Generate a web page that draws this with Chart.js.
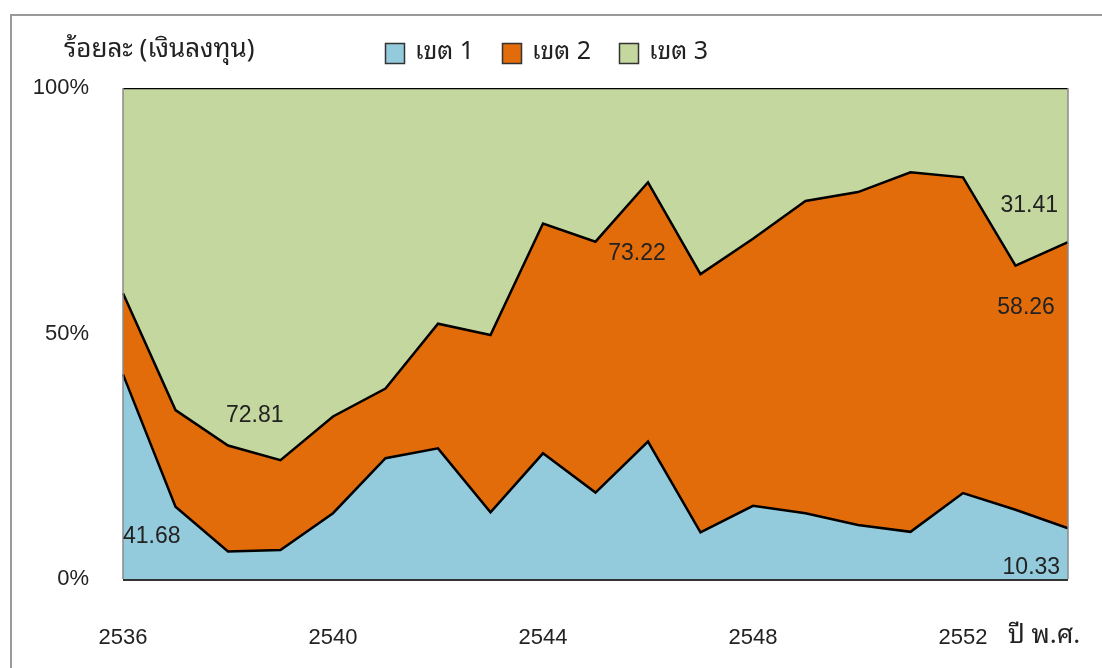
<!DOCTYPE html>
<html lang="th">
<head>
<meta charset="utf-8">
<title>สัดส่วนเงินลงทุน เขต 1-3</title>
<script src="https://cdn.jsdelivr.net/npm/chart.js@4.4.1/dist/chart.umd.min.js"></script>
<style>
  html, body { margin: 0; padding: 0; background: #fff; }
  #wrap { width: 1102px; height: 668px; }
</style>
</head>
<body>
<div id="wrap"><canvas id="investChart" width="1102" height="668"></canvas></div>
<script>
// ปี พ.ศ. 2536 - 2554
const years = ['2536', '2537', '2538', '2539', '2540', '2541', '2542', '2543', '2544', '2545',
               '2546', '2547', '2548', '2549', '2550', '2551', '2552', '2553', '2554'];
// ร้อยละของเงินลงทุนแต่ละเขต
const zone1 = [41.68, 14.7, 5.6, 5.9, 13.4, 24.6, 26.6, 13.6, 25.6, 17.6,
               28.0, 9.5, 14.9, 13.4, 11.0, 9.6, 17.5, 14.1, 10.33];
const zone2 = [16.52, 19.7, 21.59, 18.3, 19.7, 14.2, 25.4, 36.1, 46.8, 51.1,
               52.8, 52.6, 54.4, 63.6, 67.8, 73.22, 64.3, 49.7, 58.26];
const zone3 = [41.8, 65.6, 72.81, 75.8, 66.9, 61.2, 48.0, 50.3, 27.6, 31.3,
               19.2, 37.9, 30.7, 23.0, 21.2, 17.18, 18.2, 36.2, 31.41];
const zoneNames = ['เขต 1', 'เขต 2', 'เขต 3'];
const yTicks = [0, 50, 100];
const shownYears = ['2536', '2540', '2544', '2548', '2552'];

const zoneColors = ['#94cbdc', '#e36c0a', '#c4d79e'];
const FONT = '"Liberation Sans", Arial, sans-serif';
const THAI_FONT = 'Tahoma, "Noto Sans Thai Looped", "Noto Sans Thai", "Noto Sans", sans-serif';

// ป้ายค่าบนกราฟ: ชุดข้อมูล, ตำแหน่งข้อมูล, จุดวาง (ดัชนีแกน x, ค่าแกน y), การจัดแนว
const valueLabels = [
  { ds: 0, i: 0,  at: [0, 8.6],      align: 'left' },
  { ds: 2, i: 2,  at: [2.51, 33.2],  align: 'center' },
  { ds: 1, i: 15, at: [9.79, 66.2],  align: 'center' },
  { ds: 2, i: 18, at: [17.81, 76.0], align: 'right' },
  { ds: 1, i: 18, at: [17.75, 55.2], align: 'right' },
  { ds: 0, i: 18, at: [17.85, 2.4],  align: 'right' }
];

const decorPlugin = {
  id: 'decor',
  beforeDraw(chart) {
    const ctx = chart.ctx;
    ctx.save();
    // กรอบนอก
    ctx.strokeStyle = '#9a9a9a';
    ctx.lineWidth = 2;
    ctx.beginPath();
    ctx.moveTo(11, 668);
    ctx.lineTo(11, 15);
    ctx.lineTo(1102, 15);
    ctx.stroke();
    ctx.restore();
  },
  afterDatasetsDraw(chart) {
    const ctx = chart.ctx;
    const a = chart.chartArea;
    const x = chart.scales.x, y = chart.scales.y;
    ctx.save();
    // เส้นขอบพื้นที่กราฟ
    ctx.lineWidth = 1.5;
    ctx.strokeStyle = '#8a8a8a';
    ctx.beginPath();
    ctx.moveTo(a.left, a.bottom); ctx.lineTo(a.left, a.top);
    ctx.moveTo(a.right, a.top); ctx.lineTo(a.right, a.bottom);
    ctx.stroke();
    ctx.strokeStyle = '#333';
    ctx.lineWidth = 2;
    ctx.beginPath();
    ctx.moveTo(a.left, a.bottom + 1); ctx.lineTo(a.right, a.bottom + 1);
    ctx.stroke();

    // ค่าตัวเลขบนพื้นที่
    ctx.fillStyle = '#222';
    ctx.font = '23px ' + FONT;
    ctx.textBaseline = 'middle';
    valueLabels.forEach(l => {
      const v = chart.data.datasets[l.ds].data[l.i];
      ctx.textAlign = l.align;
      ctx.fillText(v.toFixed(2), x.getPixelForValue(l.at[0]), y.getPixelForValue(l.at[1]));
    });

    // หัวแกนและคำอธิบาย
    ctx.textAlign = 'left';
    ctx.font = '26px ' + THAI_FONT;
    ctx.fillText('ร้อยละ (เงินลงทุน)', 64, 50);
    ctx.fillText('ปี พ.ศ.', 1008, 636);

    const legendX = [385, 502, 619];
    ctx.font = '25px ' + THAI_FONT;
    chart.data.datasets.forEach((ds, k) => {
      const lx = legendX[k];
      ctx.fillStyle = ds.backgroundColor;
      ctx.fillRect(lx, 43, 19, 20);
      ctx.strokeStyle = '#333';
      ctx.lineWidth = 1.5;
      ctx.strokeRect(lx + 0.5, 43.5, 19, 20);
      ctx.fillStyle = '#222';
      ctx.fillText(ds.label, lx + 30, 52);
    });
    ctx.restore();
  }
};

function makeSet(label, data, color, fill) {
  return {
    label: label,
    data: data,
    backgroundColor: color,
    borderColor: '#000',
    borderWidth: 2.5,
    pointRadius: 0,
    tension: 0,
    fill: fill
  };
}

const ctx = document.getElementById('investChart').getContext('2d');
new Chart(ctx, {
  type: 'line',
  data: {
    labels: years,
    datasets: [
      makeSet(zoneNames[0], zone1, zoneColors[0], 'origin'),
      makeSet(zoneNames[1], zone2, zoneColors[1], '-1'),
      makeSet(zoneNames[2], zone3, zoneColors[2], '-1')
    ]
  },
  options: {
    responsive: false,
    animation: false,
    layout: { padding: { top: 88, right: 34, left: 0, bottom: 0 } },
    plugins: {
      legend: { display: false },
      tooltip: { enabled: false }
    },
    scales: {
      x: {
        offset: false,
        grid: { display: false, drawTicks: false },
        border: { display: false },
        ticks: {
          autoSkip: false,
          maxRotation: 0,
          padding: 46,
          color: '#222',
          font: { family: FONT, size: 22 },
          callback: function(value) {
            const yr = this.getLabelForValue(value);
            return shownYears.includes(yr) ? yr : '';
          }
        },
        afterFit: s => {
          s.height = 89;
          s.paddingLeft = 0;
          s.paddingRight = 0;
        }
      },
      y: {
        stacked: true,
        min: 0,
        max: 100,
        grid: { display: false, drawTicks: false },
        border: { display: false },
        afterBuildTicks: s => { s.ticks = yTicks.map(v => ({ value: v })); },
        ticks: {
          padding: 34,
          color: '#222',
          font: { family: FONT, size: 22 },
          callback: v => v + '%'
        },
        afterFit: s => { s.width = 123; }
      }
    }
  },
  plugins: [decorPlugin]
});
</script>
</body>
</html>
